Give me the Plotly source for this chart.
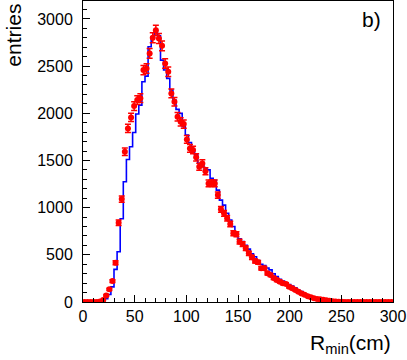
"""R_min distribution: MC histogram (blue step) vs data points (red, sqrt(N) errors)."""
import numpy as np
import plotly.graph_objects as go

BIN_WIDTH = 3  # cm
X_MIN, X_MAX = 0, 300

# MC expectation, one value per 3 cm bin starting at 0 cm
mc_counts = [
    0, 0, 0, 0, 0, 3, 12, 35, 80, 160,
    346, 533, 882, 1274, 1511, 1645, 1797, 1992, 2087, 2334,
    2394, 2705, 2810, 2880, 2820, 2563, 2458, 2370, 2246, 2140,
    2041, 1999, 1858, 1769, 1690, 1592, 1560, 1469, 1450, 1420,
    1400, 1310, 1290, 1186, 1080, 1027, 940, 869, 800, 728,
    670, 640, 600, 560, 510, 480, 440, 400, 385, 360,
    340, 300, 270, 240, 222, 200, 185, 170, 150, 125,
    110, 80, 65, 55, 40, 30, 20, 14, 10, 5,
    3, 2, 1, 1, 0, 0, 0, 0, 0, 0,
    0, 0, 0, 0, 0, 0, 0, 0, 0, 0,
]

# measured entries, same binning
data_counts = [
    0, 0, 0, 0, 0, 5, 20, 70, 134, 222,
    416, 840, 1091, 1592, 1840, 1956, 2076, 2140, 2160, 2458,
    2475, 2634, 2800, 2880, 2793, 2715, 2528, 2440, 2211, 2122,
    1963, 1910, 1886, 1723, 1628, 1610, 1533, 1433, 1469, 1385,
    1257, 1260, 1257, 1133, 982, 940, 887, 826, 728, 717,
    639, 614, 569, 516, 473, 434, 420, 357, 357, 304,
    286, 255, 233, 215, 198, 191, 162, 145, 127, 109,
    90, 77, 62, 50, 39, 33, 28, 24, 18, 12,
    8, 5, 3, 2, 1, 0, 0, 0, 0, 0,
    0, 0, 0, 0, 0, 0, 0, 0, 0, 0,
]

x_ticks = [0, 50, 100, 150, 200, 250, 300]
y_ticks = [0, 500, 1000, 1500, 2000, 2500, 3000]

FONT = "Liberation Sans, Arial, Helvetica, sans-serif"

edges = X_MIN + BIN_WIDTH * np.arange(len(mc_counts) + 1)
centers = edges[:-1] + BIN_WIDTH / 2
mc = np.array(mc_counts, dtype=float)
data = np.array(data_counts, dtype=float)

fig = go.Figure()
fig.add_trace(
    go.Scatter(
        x=edges,
        y=np.append(mc, mc[-1]),
        mode="lines",
        line=dict(color="#0000ff", width=1.6, shape="hv"),
        name="MC",
    )
)
fig.add_trace(
    go.Scatter(
        x=centers,
        y=data,
        mode="markers",
        marker=dict(color="#ff0000", size=6, symbol="circle"),
        error_y=dict(type="data", array=np.sqrt(data), color="#ff0000", thickness=1.5, width=3),
        name="data",
    )
)

fig.add_annotation(
    text="entries", textangle=-90, xref="paper", yref="paper",
    x=-0.225, y=0.997, xanchor="center", yanchor="top", showarrow=False,
    font=dict(size=21, color="black", family=FONT),
)
fig.add_annotation(
    text="R<sub>min</sub>(cm)", xref="paper", yref="paper",
    x=1.0, y=-0.14, xanchor="right", yanchor="middle", showarrow=False,
    font=dict(size=21, color="black", family=FONT),
)
fig.add_annotation(
    text="b)", xref="paper", yref="paper", x=0.932, y=0.94,
    xanchor="center", yanchor="middle", showarrow=False,
    font=dict(size=21, color="black", family=FONT),
)

fig.update_layout(
    width=407,
    height=360,
    margin=dict(l=83, r=14, t=1, b=58),
    plot_bgcolor="white",
    paper_bgcolor="white",
    showlegend=False,
    font=dict(family=FONT, size=16, color="black"),
)
fig.update_xaxes(
    range=[X_MIN, X_MAX], tickvals=x_ticks, ticks="inside", ticklen=7, tickcolor="black",
    showline=True, linecolor="black", linewidth=1, mirror=True, showgrid=False, zeroline=False,
    minor=dict(dtick=10, ticks="inside", ticklen=4, tickcolor="black"),
)
fig.update_yaxes(
    range=[0, 3190], tickvals=y_ticks, ticks="inside", ticklen=7, tickcolor="black",
    showline=True, linecolor="black", linewidth=1, mirror=True, showgrid=False, zeroline=False,
    minor=dict(dtick=100, ticks="inside", ticklen=4, tickcolor="black"),
    ticklabelstandoff=6,
)

# drop the browser's default 8px page margin so the chart sits at the window origin
fig.write_html(
    "out.html",
    config={"displayModeBar": False},
    post_script="document.body.style.margin='0';",
)
